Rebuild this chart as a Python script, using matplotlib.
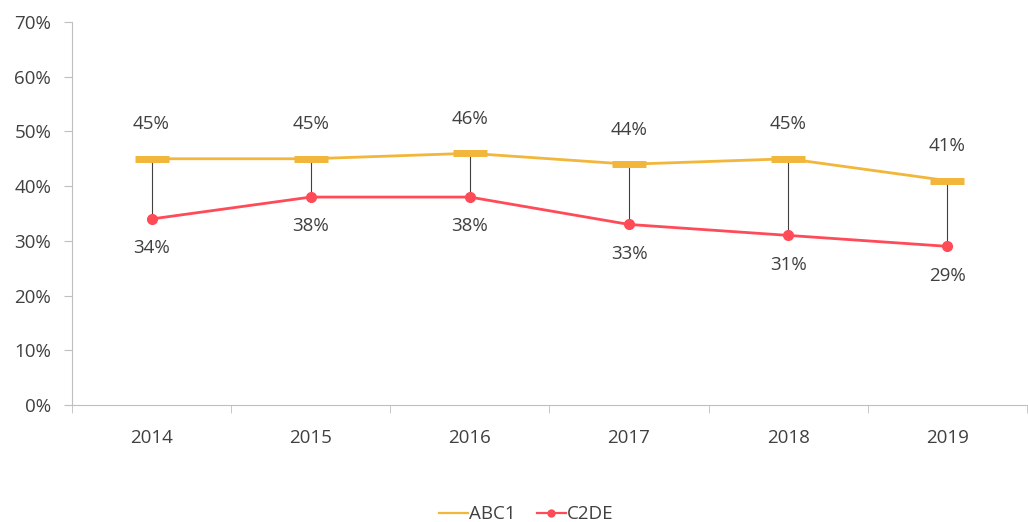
import matplotlib.pyplot as plt
from matplotlib.ticker import FuncFormatter

plt.rcParams['font.family'] = ['Open Sans', 'DejaVu Sans']

years = ['2014', '2015', '2016', '2017', '2018', '2019']
abc1 = [45, 45, 46, 44, 45, 41]
c2de = [34, 38, 38, 33, 31, 29]

abc1_color = '#F2B63A'
c2de_color = '#FF4A57'
text_color = '#404040'
axis_color = '#BFBFBF'
fs = 13.5

fig = plt.figure(figsize=(10.28, 5.22), dpi=100)
ax = fig.add_axes([0.070, 0.224, 0.929, 0.734])

x = list(range(len(years)))

# high-low lines
ax.vlines(x, c2de, abc1, color='#404040', linewidth=0.8, zorder=1)

ax.plot(x, abc1, color=abc1_color, linewidth=2.0, marker='_',
        markersize=25, markeredgewidth=5, label='ABC1', zorder=2)
ax.plot(x, c2de, color=c2de_color, linewidth=2.0, marker='o',
        markersize=7, label='C2DE', zorder=3)

for xi, a, c in zip(x, abc1, c2de):
    ax.annotate(f'{a}%', (xi, a), xytext=(0, 25), textcoords='offset points',
                ha='center', va='center', fontsize=fs, color=text_color)
    ax.annotate(f'{c}%', (xi, c), xytext=(0, -21), textcoords='offset points',
                ha='center', va='center', fontsize=fs, color=text_color)

ax.set_xlim(-0.5, len(years) - 0.5)
ax.set_ylim(0, 70)
ax.set_yticks(range(0, 71, 10))
ax.yaxis.set_major_formatter(FuncFormatter(lambda v, p: f'{v:.0f}%'))
ax.set_xticks(x)
ax.set_xticklabels(years)
ax.set_xticks([i - 0.5 for i in range(len(years) + 1)], minor=True)
ax.tick_params(axis='x', which='major', length=0, pad=17, labelsize=fs, labelcolor=text_color)
ax.tick_params(axis='x', which='minor', length=6, color=axis_color, direction='out')
ax.tick_params(axis='y', length=6, color=axis_color, pad=9, labelsize=fs, labelcolor=text_color)

for s in ['top', 'right']:
    ax.spines[s].set_visible(False)
for s in ['left', 'bottom']:
    ax.spines[s].set_color(axis_color)

fig.legend(loc='lower center', bbox_to_anchor=(0.512, -0.035), ncol=2, frameon=False,
           fontsize=fs, handlelength=1.55, handletextpad=0.05, columnspacing=1.1,
           labelcolor=text_color)
# legend marker for ABC1 is a plain line in the reference
leg = fig.legends[0]
leg.legend_handles[0].set_marker('')
for h in leg.legend_handles:
    h.set_linewidth(1.6)
leg.legend_handles[1].set_markersize(5)

fig.savefig('out.png', dpi=100)
